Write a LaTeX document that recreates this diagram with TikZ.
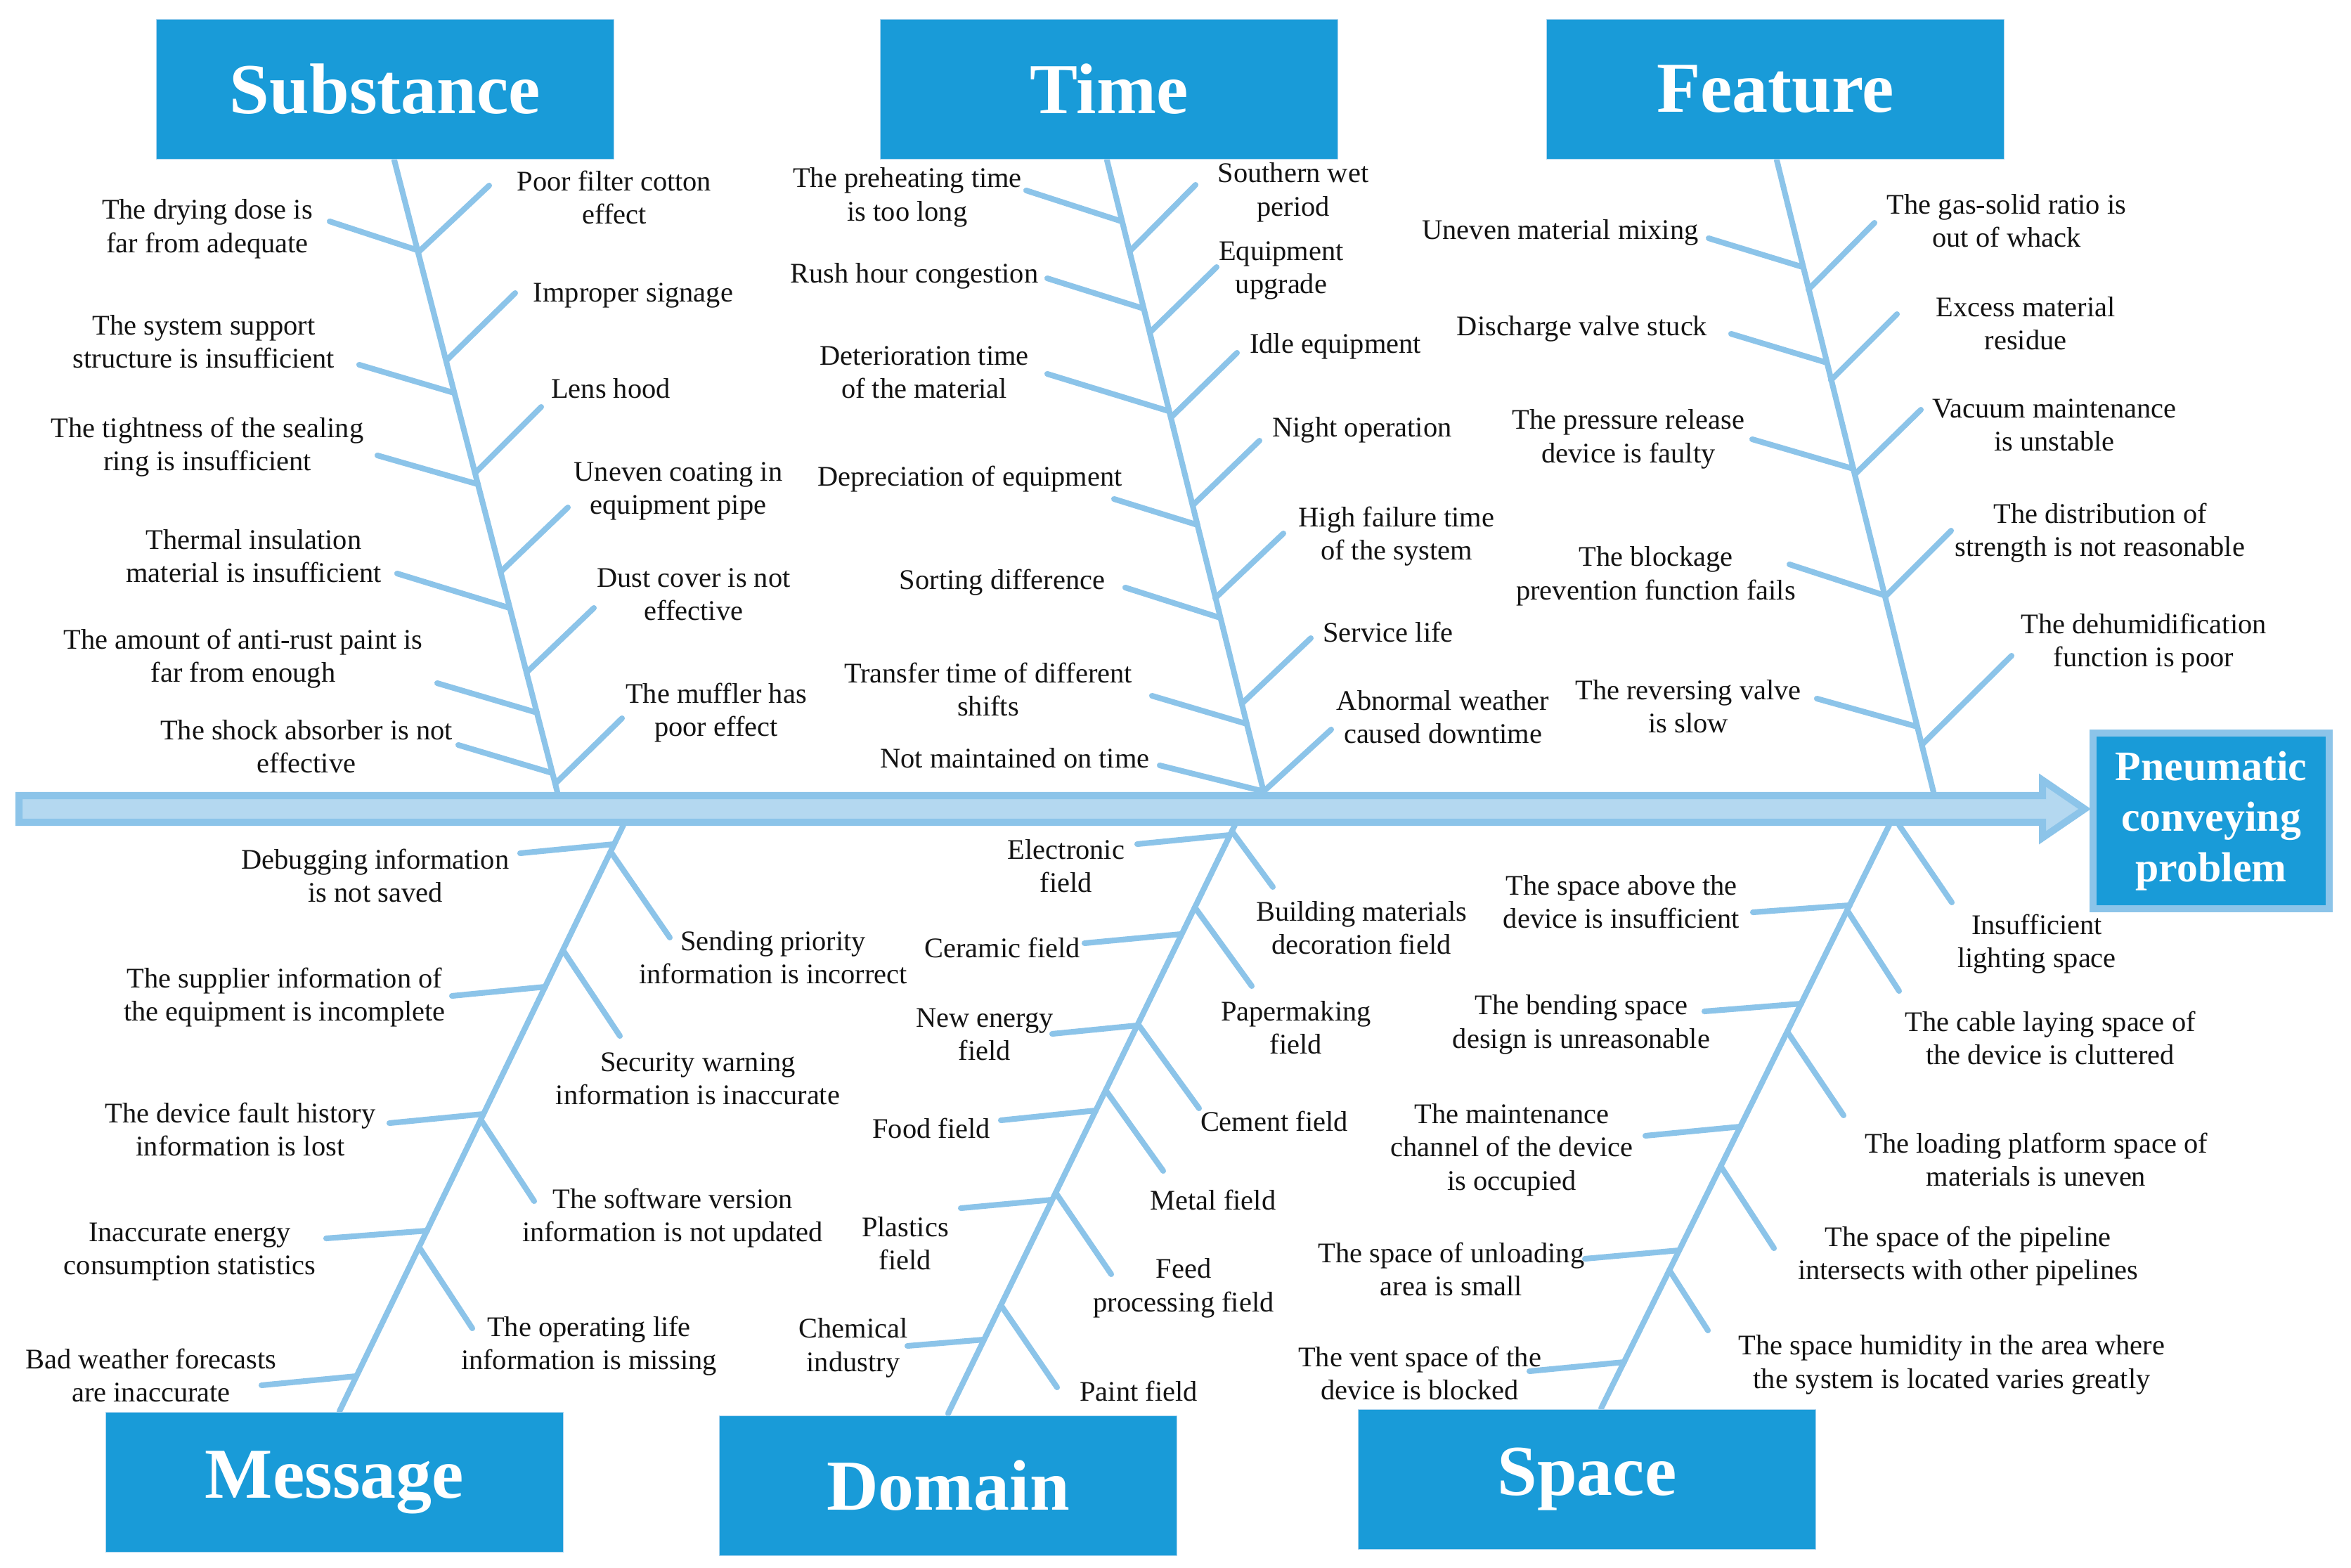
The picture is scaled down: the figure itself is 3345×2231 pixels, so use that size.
\documentclass[tikz,border=0pt]{standalone}
\usepackage{fontspec}
\setmainfont{Liberation Serif}
\usetikzlibrary{calc}
\definecolor{BoxBlue}{HTML}{199BD8}
\definecolor{BoneBlue}{HTML}{8CC4E9}
\definecolor{SpineFill}{HTML}{B4D8F0}
\definecolor{Ink}{HTML}{141414}
\tikzset{
  catbox/.style={fill=BoxBlue,draw=BoneBlue!70,line width=0.4pt,minimum width=6.51cm,minimum height=1.99cm,inner sep=0pt,font=\fontsize{29}{34}\selectfont\bfseries,text=white},
  headbox/.style={fill=BoxBlue,draw=BoneBlue,line width=2.85pt,minimum width=3.35cm,minimum height=2.5cm,align=center,inner sep=0pt,font=\fontsize{17}{20.5}\selectfont\bfseries,text=white},
  causetext/.style={align=center,inner sep=0pt,font=\fontsize{11.5}{13.5}\selectfont,text=Ink},
  bone/.style={draw=BoneBlue,line width=2.3pt,line cap=round},
  spine/.style={draw=BoneBlue,fill=SpineFill,line width=2.85pt,line join=miter}
}

\begin{document}
\begin{tikzpicture}[x=0.01cm,y=-0.01cm]
  \fill[white] (0,0) rectangle (3345,2231);
  \useasboundingbox (0,0) rectangle (3345,2231);

  % main bones
  \coordinate (subTop) at (561,228);   \coordinate (subFoot) at (793,1127);
  \coordinate (timeTop) at (1575,228); \coordinate (timeFoot) at (1798,1127);
  \coordinate (featTop) at (2528,228); \coordinate (featFoot) at (2751,1127);
  \coordinate (msgFoot) at (887,1174); \coordinate (msgTop) at (483,2008);
  \coordinate (domFoot) at (1757,1174); \coordinate (domTop) at (1349,2011);
  \coordinate (spaFoot) at (2688,1174); \coordinate (spaTop) at (2278,2004);
  \draw[bone] (subTop) -- (subFoot);
  \draw[bone] (timeTop) -- (timeFoot);
  \draw[bone] (featTop) -- (featFoot);
  \draw[bone] (msgFoot) -- (msgTop);
  \draw[bone] (domFoot) -- (domTop);
  \draw[bone] (spaFoot) -- (spaTop);

  % Substance
  \foreach \jx/\jy/\ex/\ey [count=\i] in {594/356/469/315, 646/559/511/519, 680/689/537/648, 725/865/565/816, 764/1014/622/972, 786/1100/652/1060}{
    \coordinate (subL\i) at (\jx,\jy); \coordinate (subLe\i) at (\ex,\ey);
    \draw[bone] (subL\i) -- (subLe\i);
  }
  \foreach \jx/\jy/\ex/\ey [count=\i] in {595/359/696/264, 635/513/733/417, 676/673/770/579, 712/814/808/722, 749/957/845/865, 790/1115/885/1022}{
    \coordinate (subR\i) at (\jx,\jy); \coordinate (subRe\i) at (\ex,\ey);
    \draw[bone] (subR\i) -- (subRe\i);
  }

  % Time
  \foreach \jx/\jy/\ex/\ey [count=\i] in {1596/315/1460/271, 1627/439/1490/396, 1663/585/1490/532, 1704/747/1585/710, 1736/879/1601/836, 1774/1030/1639/990, 1798/1126/1650/1089}{
    \coordinate (timeL\i) at (\jx,\jy); \coordinate (timeLe\i) at (\ex,\ey);
    \draw[bone] (timeL\i) -- (timeLe\i);
  }
  \foreach \jx/\jy/\ex/\ey [count=\i] in {1607/358/1701/263, 1636/473/1731/380, 1666/594/1760/502, 1697/719/1792/627, 1729/851/1826/759, 1767/1001/1865/908, 1798/1126/1894/1038}{
    \coordinate (timeR\i) at (\jx,\jy); \coordinate (timeRe\i) at (\ex,\ey);
    \draw[bone] (timeR\i) -- (timeRe\i);
  }

  % Feature
  \foreach \jx/\jy/\ex/\ey [count=\i] in {2565/380/2431/339, 2599/516/2463/475, 2637/667/2493/625, 2681/847/2546/803, 2728/1034/2585/994}{
    \coordinate (featL\i) at (\jx,\jy); \coordinate (featLe\i) at (\ex,\ey);
    \draw[bone] (featL\i) -- (featLe\i);
  }
  \foreach \jx/\jy/\ex/\ey [count=\i] in {2573/412/2667/317, 2605/541/2699/447, 2639/675/2733/583, 2682/849/2776/755, 2734/1060/2862/933}{
    \coordinate (featR\i) at (\jx,\jy); \coordinate (featRe\i) at (\ex,\ey);
    \draw[bone] (featR\i) -- (featRe\i);
  }

  % Message
  \foreach \jx/\jy/\ex/\ey [count=\i] in {874/1201/740/1214, 776/1404/643/1417, 688/1585/554/1598, 608/1751/464/1762, 507/1958/372/1971}{
    \coordinate (msgL\i) at (\jx,\jy); \coordinate (msgLe\i) at (\ex,\ey);
    \draw[bone] (msgL\i) -- (msgLe\i);
  }
  \foreach \jx/\jy/\ex/\ey [count=\i] in {869/1212/953/1334, 801/1352/882/1474, 684/1593/760/1709, 596/1774/672/1890}{
    \coordinate (msgR\i) at (\jx,\jy); \coordinate (msgRe\i) at (\ex,\ey);
    \draw[bone] (msgR\i) -- (msgRe\i);
  }

  % Domain
  \foreach \jx/\jy/\ex/\ey [count=\i] in {1750/1188/1618/1201, 1681/1329/1543/1342, 1618/1459/1497/1471, 1559/1580/1424/1594, 1497/1707/1367/1719, 1400/1906/1291/1915}{
    \coordinate (domL\i) at (\jx,\jy); \coordinate (domLe\i) at (\ex,\ey);
    \draw[bone] (domL\i) -- (domLe\i);
  }
  \foreach \jx/\jy/\ex/\ey [count=\i] in {1753/1183/1811/1262, 1700/1291/1781/1403, 1619/1457/1706/1577, 1573/1551/1655/1666, 1502/1697/1581/1813, 1424/1857/1504/1974}{
    \coordinate (domR\i) at (\jx,\jy); \coordinate (domRe\i) at (\ex,\ey);
    \draw[bone] (domR\i) -- (domRe\i);
  }

  % Space
  \foreach \jx/\jy/\ex/\ey [count=\i] in {2632/1288/2494/1298, 2563/1428/2425/1439, 2476/1603/2341/1616, 2389/1779/2255/1791, 2311/1938/2176/1951}{
    \coordinate (spaL\i) at (\jx,\jy); \coordinate (spaLe\i) at (\ex,\ey);
    \draw[bone] (spaL\i) -- (spaLe\i);
  }
  \foreach \jx/\jy/\ex/\ey [count=\i] in {2702/1174/2777/1284, 2628/1295/2702/1410, 2543/1468/2623/1587, 2448/1659/2524/1776, 2375/1807/2430/1893}{
    \coordinate (spaR\i) at (\jx,\jy); \coordinate (spaRe\i) at (\ex,\ey);
    \draw[bone] (spaR\i) -- (spaRe\i);
  }

  % spine arrow
  \draw[spine] (27,1132) -- (2906,1132) -- (2906,1110) -- (2966,1151) -- (2906,1192) -- (2906,1170) -- (27,1170) -- cycle;

  % boxes
  \node[catbox] (substance) at (548,127) {Substance};
  \node[catbox] (time) at (1578,127) {Time};
  \node[catbox] (feature) at (2526,127) {Feature};
  \node[catbox] (message) at (476,2109) {Message};
  \node[catbox] (domain) at (1349,2114) {Domain};
  \node[catbox] (space) at (2258,2105) {Space};
  \node[headbox] (problem) at (3146,1168) {Pneumatic\\conveying\\problem};

  % Substance causes
  \node[causetext] (sl1) at (295,326) {The drying dose is\\far from adequate};
  \node[causetext] (sl2) at (290,486) {The system support\\structure is insufficient};
  \node[causetext] (sl3) at (295,636) {The tightness of the sealing\\ring is insufficient};
  \node[causetext] (sl4) at (361,791) {Thermal insulation\\material is insufficient};
  \node[causetext] (sl5) at (346,937) {The amount of anti-rust paint is\\far from enough};
  \node[causetext] (sl6) at (436,1062) {The shock absorber is not\\effective};
  \node[causetext] (sr1) at (874,281) {Poor filter cotton\\effect};
  \node[causetext] (sr2) at (901,420) {Improper signage};
  \node[causetext] (sr3) at (869,553) {Lens hood};
  \node[causetext] (sr4) at (965,699) {Uneven coating in\\equipment pipe};
  \node[causetext] (sr5) at (987,846) {Dust cover is not\\effective};
  \node[causetext] (sr6) at (1019,1014) {The muffler has\\poor effect};

  % Time causes
  \node[causetext] (tl1) at (1291,281) {The preheating time\\is too long};
  \node[causetext] (tl2) at (1301,393) {Rush hour congestion};
  \node[causetext] (tl3) at (1315,530) {Deterioration time\\of the material};
  \node[causetext] (tl4) at (1380,682) {Depreciation of equipment};
  \node[causetext] (tl5) at (1426,829) {Sorting difference};
  \node[causetext] (tl6) at (1406,981) {Transfer time of different\\shifts};
  \node[causetext] (tl7) at (1444,1079) {Not maintained on time};
  \node[causetext] (tr1) at (1840,274) {Southern wet\\period};
  \node[causetext] (tr2) at (1823,385) {Equipment\\upgrade};
  \node[causetext] (tr3) at (1900,493) {Idle equipment};
  \node[causetext] (tr4) at (1938,612) {Night operation};
  \node[causetext] (tr5) at (1987,763) {High failure time\\of the system};
  \node[causetext] (tr6) at (1975,899) {Service life};
  \node[causetext] (tr7) at (2053,1020) {Abnormal weather\\caused downtime};

  % Feature causes
  \node[causetext] (fl1) at (2220,331) {Uneven material mixing};
  \node[causetext] (fl2) at (2251,468) {Discharge valve stuck};
  \node[causetext] (fl3) at (2317,625) {The pressure release\\device is faulty};
  \node[causetext] (fl4) at (2356,820) {The blockage\\prevention function fails};
  \node[causetext] (fl5) at (2402,1005) {The reversing valve\\is slow};
  \node[causetext] (fr1) at (2855,314) {The gas-solid ratio is\\out of whack};
  \node[causetext] (fr2) at (2882,460) {Excess material\\residue};
  \node[causetext] (fr3) at (2923,605) {Vacuum maintenance\\is unstable};
  \node[causetext] (fr4) at (2988,758) {The distribution of\\strength is not reasonable};
  \node[causetext] (fr5) at (3050,915) {The dehumidification\\function is poor};

  % Message causes
  \node[causetext] (ml1) at (534,1246) {Debugging information\\is not saved};
  \node[causetext] (ml2) at (405,1419) {The supplier information of\\the equipment is incomplete};
  \node[causetext] (ml3) at (342,1607) {The device fault history\\information is lost};
  \node[causetext] (ml4) at (270,1781) {Inaccurate energy\\consumption statistics};
  \node[causetext] (ml5) at (215,1957) {Bad weather forecasts\\are inaccurate};
  \node[causetext] (mr1) at (1100,1362) {Sending priority\\information is incorrect};
  \node[causetext] (mr2) at (993,1535) {Security warning\\information is inaccurate};
  \node[causetext] (mr3) at (957,1733) {The software version\\information is not updated};
  \node[causetext] (mr4) at (838,1915) {The operating life\\information is missing};

  % Domain causes
  \node[causetext] (dl1) at (1517,1232) {Electronic\\field};
  \node[causetext] (dl2) at (1426,1348) {Ceramic field};
  \node[causetext] (dl3) at (1401,1472) {New energy\\field};
  \node[causetext] (dl4) at (1325,1605) {Food field};
  \node[causetext] (dl5) at (1288,1769) {Plastics\\field};
  \node[causetext] (dl6) at (1214,1918) {Chemical\\industry};
  \node[causetext] (dr1) at (1937,1320) {Building materials\\decoration field};
  \node[causetext] (dr2) at (1844,1462) {Papermaking\\field};
  \node[causetext] (dr3) at (1813,1595) {Cement field};
  \node[causetext] (dr4) at (1726,1707) {Metal field};
  \node[causetext] (dr5) at (1684,1833) {Feed\\processing field};
  \node[causetext] (dr6) at (1620,1979) {Paint field};

  % Space causes
  \node[causetext] (spl1) at (2307,1283) {The space above the\\device is insufficient};
  \node[causetext] (spl2) at (2250,1458) {The bending space\\design is unreasonable};
  \node[causetext] (spl3) at (2151,1636) {The maintenance\\channel of the device\\is occupied};
  \node[causetext] (spl4) at (2065,1806) {The space of unloading\\area is small};
  \node[causetext] (spl5) at (2020,1954) {The vent space of the\\device is blocked};
  \node[causetext] (spr1) at (2898,1343) {Insufficient\\lighting space};
  \node[causetext] (spr2) at (2917,1477) {The cable laying space of\\the device is cluttered};
  \node[causetext] (spr3) at (2897,1650) {The loading platform space of\\materials is uneven};
  \node[causetext] (spr4) at (2800,1787) {The space of the pipeline\\intersects with other pipelines};
  \node[causetext] (spr5) at (2777,1942) {The space humidity in the area where\\the system is located varies greatly};
\end{tikzpicture}
\end{document}
